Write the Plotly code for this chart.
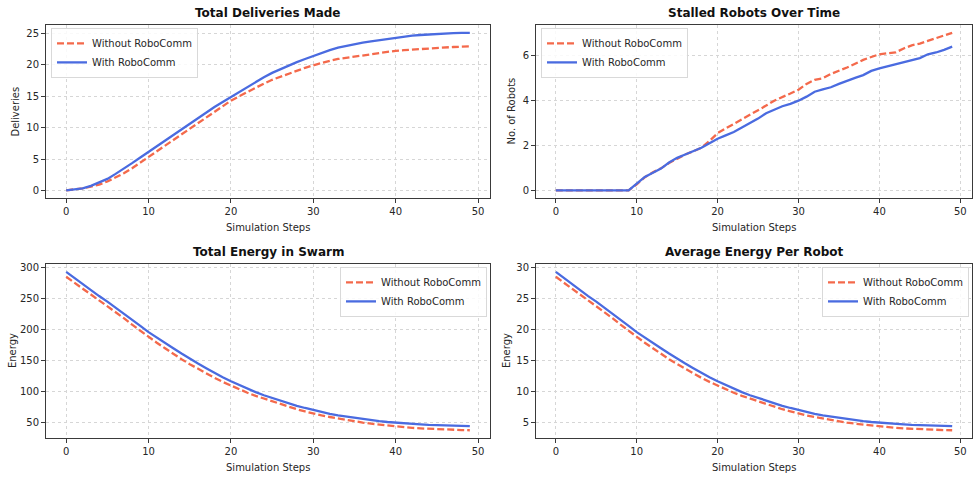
import plotly.graph_objects as go

steps = list(range(50))

deliv_without = [0.1, 0.2, 0.4, 0.7, 1.0, 1.5, 2.1, 2.8, 3.6, 4.5,
                 5.4, 6.3, 7.2, 8.1, 9.0, 9.9, 10.8, 11.7, 12.6, 13.5,
                 14.3, 15.0, 15.7, 16.4, 17.0, 17.6, 18.1, 18.6, 19.1, 19.5,
                 19.9, 20.3, 20.6, 20.9, 21.1, 21.3, 21.5, 21.7, 21.9, 22.0,
                 22.2, 22.3, 22.4, 22.5, 22.6, 22.7, 22.75, 22.8, 22.85, 22.9]
deliv_with = [0.1, 0.2, 0.4, 0.8, 1.3, 1.9, 2.7, 3.5, 4.4, 5.3,
              6.2, 7.1, 8.0, 8.9, 9.8, 10.7, 11.6, 12.5, 13.3, 14.1,
              14.9, 15.7, 16.5, 17.3, 18.0, 18.7, 19.3, 19.9, 20.4, 20.9,
              21.4, 21.9, 22.3, 22.7, 23.0, 23.3, 23.5, 23.7, 23.9, 24.1,
              24.3, 24.5, 24.6, 24.7, 24.8, 24.9, 24.95, 25.0, 25.05, 25.05]

stalled_without = [0, 0, 0, 0, 0, 0, 0, 0, 0, 0,
                   0.27, 0.58, 0.8, 0.98, 1.22, 1.42, 1.6, 1.74, 1.9, 2.2,
                   2.55, 2.76, 2.96, 3.18, 3.38, 3.58, 3.78, 4.0, 4.15, 4.32,
                   4.49, 4.75, 4.93, 5.0, 5.19, 5.33, 5.48, 5.65, 5.82, 5.95,
                   6.07, 6.12, 6.15, 6.33, 6.47, 6.55, 6.67, 6.77, 6.88, 7.03]
stalled_with = [0, 0, 0, 0, 0, 0, 0, 0, 0, 0,
                0.3, 0.6, 0.78, 0.97, 1.24, 1.45, 1.6, 1.75, 1.9, 2.1,
                2.3, 2.45, 2.6, 2.8, 3.0, 3.2, 3.44, 3.6, 3.75, 3.86,
                4.0, 4.18, 4.4, 4.5, 4.6, 4.75, 4.9, 5.02, 5.14, 5.33,
                5.44, 5.53, 5.63, 5.72, 5.81, 5.9, 6.07, 6.15, 6.27, 6.41]

energy_without = [285, 275.5, 266, 256.5, 247.5, 238.5, 229, 218.5, 208, 198,
                  188, 179, 170, 161, 152.5, 144.5, 137, 129.5, 122.5, 116,
                  110, 104, 98.5, 93.5, 89, 84.5, 80, 76, 72, 68.5,
                  65, 62, 59.5, 57, 54.5, 52.5, 50.5, 48.8, 47.2, 45.7,
                  44.3, 43.0, 42.0, 41.2, 40.5, 40.0, 39.4, 38.9, 38.5, 38.2]
energy_with = [293, 283, 273, 263.5, 254, 245, 235.5, 226, 216, 206,
               196, 187, 178.5, 170, 161.5, 153, 145.5, 138, 130.5, 123.5,
               117, 111, 105, 99.5, 94.5, 90, 85.5, 81.5, 77.5, 74,
               70.5, 67.5, 64.5, 62, 60, 58, 56, 54.5, 53, 51.5,
               50.3, 49.3, 48.4, 47.6, 46.9, 46.3, 45.8, 45.4, 45.1, 44.9]

avg_without = [28.5, 27.55, 26.6, 25.65, 24.75, 23.85, 22.9, 21.85, 20.8, 19.8,
               18.8, 17.9, 17.0, 16.1, 15.25, 14.45, 13.7, 12.95, 12.25, 11.6,
               11.0, 10.4, 9.85, 9.35, 8.9, 8.45, 8.0, 7.6, 7.2, 6.85,
               6.5, 6.2, 5.95, 5.7, 5.45, 5.25, 5.05, 4.88, 4.72, 4.57,
               4.43, 4.3, 4.2, 4.12, 4.05, 4.0, 3.94, 3.89, 3.85, 3.82]
avg_with = [29.3, 28.3, 27.3, 26.35, 25.4, 24.5, 23.55, 22.6, 21.6, 20.6,
            19.6, 18.7, 17.85, 17.0, 16.15, 15.3, 14.55, 13.8, 13.05, 12.35,
            11.7, 11.1, 10.5, 9.95, 9.45, 9.0, 8.55, 8.15, 7.75, 7.4,
            7.05, 6.75, 6.45, 6.2, 6.0, 5.8, 5.6, 5.45, 5.3, 5.15,
            5.03, 4.93, 4.84, 4.76, 4.69, 4.63, 4.58, 4.54, 4.51, 4.49]

titles = ["Total Deliveries Made", "Stalled Robots Over Time",
          "Total Energy in Swarm", "Average Energy Per Robot"]
ylabels = ["Deliveries", "No. of Robots", "Energy", "Energy"]
xlabel = "Simulation Steps"
series_names = ["Without RoboComm", "With RoboComm"]
panels = [(deliv_without, deliv_with), (stalled_without, stalled_with),
          (energy_without, energy_with), (avg_without, avg_with)]
yticks = [[0, 5, 10, 15, 20, 25], [0, 2, 4, 6],
          [50, 100, 150, 200, 250, 300], [5, 10, 15, 20, 25, 30]]

W, H = 974, 479
FONT = "DejaVu Sans"
TXT = "#262626"
C_WITHOUT = "#F4694B"
C_WITH = "#4A6BE0"

# pixel boxes of the four axes: (left, right, top, bottom)
boxes = [(46, 490, 23, 197), (536, 972, 23, 197),
         (46, 490, 263, 438), (536, 972, 263, 438)]

fig = go.Figure()
annotations = []
layout = {}

for i, ((ywo, yw), box) in enumerate(zip(panels, boxes)):
    n = i + 1
    xa = "x" if n == 1 else f"x{n}"
    ya = "y" if n == 1 else f"y{n}"
    lg = "legend" if n == 1 else f"legend{n}"
    fig.add_trace(go.Scatter(x=steps, y=ywo, mode="lines", name=series_names[0],
                             line=dict(color=C_WITHOUT, width=2.3, dash="7px,3px"),
                             xaxis=xa, yaxis=ya, legend=lg))
    fig.add_trace(go.Scatter(x=steps, y=yw, mode="lines", name=series_names[1],
                             line=dict(color=C_WITH, width=2.3),
                             xaxis=xa, yaxis=ya, legend=lg))
    l, r, t, b = box
    ymin = min(min(ywo), min(yw))
    ymax = max(max(ywo), max(yw))
    pad = (ymax - ymin) * 0.05
    common = dict(showline=True, mirror=True, linecolor="#3a3a3a", linewidth=1,
                  ticks="outside", ticklen=4, tickcolor="#3a3a3a",
                  showgrid=True, gridcolor="#d6d6d6", griddash="3px,3px", gridwidth=1,
                  zeroline=False, tickfont=dict(family=FONT, size=10, color=TXT))
    layout["xaxis" if n == 1 else f"xaxis{n}"] = dict(
        domain=[l / W, r / W], anchor=ya, range=[-2.45, 51.45],
        tickvals=[0, 10, 20, 30, 40, 50], **common)
    layout["yaxis" if n == 1 else f"yaxis{n}"] = dict(
        domain=[1 - b / H, 1 - t / H], anchor=xa, range=[ymin - pad, ymax + pad],
        tickvals=yticks[i], **common)
    # title
    annotations.append(dict(text=f"<b>{titles[i]}</b>", xref="paper", yref="paper",
                            x=(l + r) / 2 / W, y=1 - (t - 12) / H, showarrow=False,
                            xanchor="center", yanchor="middle",
                            font=dict(family=FONT, size=12, color="#111")))
    # x label
    annotations.append(dict(text=xlabel, xref="paper", yref="paper",
                            x=(l + r) / 2 / W, y=1 - (b + 29) / H, showarrow=False,
                            xanchor="center", yanchor="middle",
                            font=dict(family=FONT, size=10, color=TXT)))
    # y label
    ylx = [16, 512, 12, 506][i]
    annotations.append(dict(text=ylabels[i], xref="paper", yref="paper",
                            x=ylx / W, y=1 - (t + b) / 2 / H, showarrow=False,
                            textangle=-90, xanchor="center", yanchor="middle",
                            font=dict(family=FONT, size=10, color=TXT)))
    # legend
    if i < 2:
        lx, lxa = (l + 5) / W, "left"
    else:
        lx, lxa = (r - 3) / W, "right"
    layout[lg] = dict(x=lx, y=1 - (t + 3) / H, xanchor=lxa, yanchor="top",
                      bgcolor="rgba(255,255,255,0.85)", bordercolor="#d9d9d9",
                      borderwidth=1, itemwidth=30, tracegroupgap=0,
                      font=dict(family=FONT, size=10, color=TXT))

fig.update_layout(width=W, height=H, margin=dict(l=0, r=0, t=0, b=0),
                  paper_bgcolor="white", plot_bgcolor="white",
                  showlegend=True, annotations=annotations, **layout)

fig.write_html("out.html", config={"displayModeBar": False},
               post_script="document.body.style.margin='0';document.body.style.overflow='hidden';")
